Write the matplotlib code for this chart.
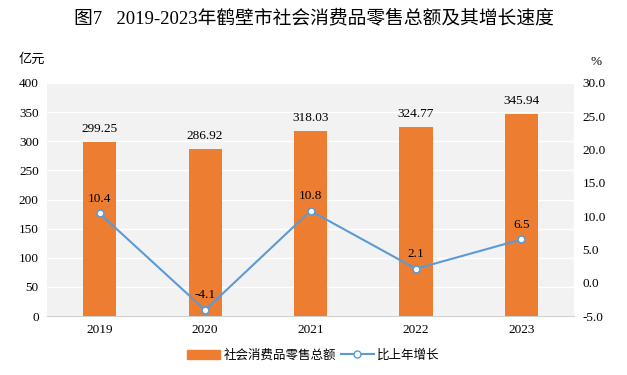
import numpy as np
import matplotlib.pyplot as plt
from matplotlib.lines import Line2D
from matplotlib.patches import Patch

plt.rcParams['font.family'] = ['Liberation Serif', 'Noto Sans CJK SC', 'DejaVu Sans']

years = ['2019', '2020', '2021', '2022', '2023']
sales = [299.25, 286.92, 318.03, 324.77, 345.94]
growth = [10.4, -4.1, 10.8, 2.1, 6.5]

bar_color = '#ED7D31'
line_color = '#5B9BD5'

fig = plt.figure(figsize=(6.27, 3.75), dpi=100)
ax = fig.add_axes([0.075, 0.157, 0.8405, 0.622])
ax.set_facecolor('#F2F2F2')

x = np.arange(len(years))
ax.bar(x, sales, width=0.315, color=bar_color, zorder=3)
for i, v in enumerate(sales):
    ax.text(x[i], v + 12, '%.2f' % v, ha='center', va='bottom', fontsize=9.5)

ax.set_xlim(-0.5, len(years) - 0.5)
ax.set_ylim(0, 400)
ax.set_yticks(np.arange(0, 401, 50))
ax.set_xticks(x)
ax.set_xticklabels(years)
ax.grid(axis='y', color='white', linewidth=1, zorder=1)
ax.set_axisbelow(True)
for s in ['top', 'right', 'left']:
    ax.spines[s].set_visible(False)
ax.spines['bottom'].set_color('#D0D0D0')
ax.tick_params(axis='both', length=0, labelsize=9.5, pad=6)

ax2 = ax.twinx()
ax2.plot(x, growth, color=line_color, linewidth=1.5, marker='o', markersize=5,
         markerfacecolor='white', markeredgecolor=line_color, markeredgewidth=1.2, zorder=4)
for i, v in enumerate(growth):
    ax2.text(x[i], v + 1.3, '%.1f' % v, ha='center', va='bottom', fontsize=9.5)
ax2.set_ylim(-5, 30)
ax2.set_yticks(np.arange(-5, 31, 5))
ax2.set_yticklabels(['%.1f' % t for t in np.arange(-5, 31, 5)])
for s in ax2.spines.values():
    s.set_visible(False)
ax2.tick_params(axis='y', length=0, labelsize=9.5, pad=6)

fig.text(0.5, 0.952, '图7   2019-2023年鹤壁市社会消费品零售总额及其增长速度',
         ha='center', va='center', fontsize=13.5)
fig.text(0.05, 0.84, '亿元', ha='center', va='center', fontsize=9.5)
fig.text(0.95, 0.835, '%', ha='center', va='center', fontsize=9.5)

handles = [Patch(color=bar_color),
           Line2D([0], [0], color=line_color, linewidth=1.5, marker='o', markersize=5,
                  markerfacecolor='white', markeredgecolor=line_color)]
fig.legend(handles, ['社会消费品零售总额', '比上年增长'], loc='center',
           bbox_to_anchor=(0.5, 0.052), ncol=2, frameon=False, fontsize=9,
           handlelength=2.6, handleheight=0.8, columnspacing=0.4, handletextpad=0.3)

fig.savefig('out.png', dpi=100)
